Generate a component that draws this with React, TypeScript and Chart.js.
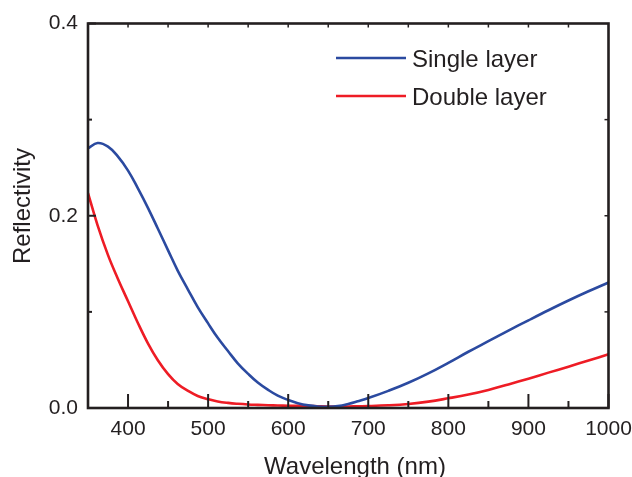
import React, { useEffect, useRef } from 'react';
import { Chart, registerables } from 'chart.js';

Chart.register(...registerables);

const wavelengths = [350, 362, 375, 387, 400, 412, 425, 437, 450, 462, 475, 487, 500, 512, 525, 537, 550, 562, 575, 587, 600, 612, 625, 637, 650, 662, 675, 687, 700, 725, 750, 775, 800, 825, 850, 875, 900, 925, 950, 975, 1000];
const singleLayer = [0.270, 0.2757, 0.272, 0.262, 0.247, 0.229, 0.208, 0.187, 0.164, 0.143, 0.123, 0.105, 0.088, 0.073, 0.059, 0.0465, 0.0355, 0.0265, 0.0188, 0.0128, 0.0083, 0.005, 0.0027, 0.0016, 0.0013, 0.002, 0.0042, 0.007, 0.0103, 0.0178, 0.0262, 0.036, 0.047, 0.0585, 0.0695, 0.0805, 0.0912, 0.1017, 0.1118, 0.1214, 0.1306];
const doubleLayer = [0.2236, 0.190, 0.159, 0.135, 0.111, 0.089, 0.067, 0.050, 0.0352, 0.025, 0.0178, 0.0125, 0.0092, 0.0068, 0.0053, 0.0044, 0.0037, 0.0033, 0.0029, 0.0026, 0.0024, 0.0022, 0.002, 0.0018, 0.0016, 0.0016, 0.0016, 0.0018, 0.002, 0.0028, 0.0042, 0.0066, 0.0101, 0.014, 0.0188, 0.0245, 0.0305, 0.0368, 0.043, 0.0494, 0.0559];
const seriesLabels = ['Single layer', 'Double layer'];
const seriesColors = ['#2b4aa0', '#ee1c25'];

const xTickLabels = [400, 500, 600, 700, 800, 900, 1000];
const xMinorTicks = [450, 550, 650, 750, 850, 950];
const xTopTicks = [400, 450, 500, 550, 600, 650, 700, 750, 800, 850, 900, 950];
const yTickLabels = [0.0, 0.2, 0.4];
const yMinorTicks = [0.1, 0.3];
const yRightTicks = [0.1, 0.2, 0.3];

const xTitle = 'Wavelength (nm)';
const yTitle = 'Reflectivity';

const FONT = '"Liberation Sans", Arial, Helvetica, sans-serif';
const INK = '#231f20';

const framePlugin = {
  id: 'frame',
  afterDatasetsDraw(chart: any) {
    const ctx = chart.ctx;
    const { left, right, top, bottom } = chart.chartArea;
    const xs = chart.scales.x;
    const ys = chart.scales.y;
    ctx.save();
    ctx.strokeStyle = INK;
    ctx.lineCap = 'butt';
    ctx.lineWidth = 2;
    const vTick = (x: number, y0: number, len: number) => {
      ctx.beginPath();
      ctx.moveTo(x, y0);
      ctx.lineTo(x, y0 + len);
      ctx.stroke();
    };
    const hTick = (y: number, x0: number, len: number) => {
      ctx.beginPath();
      ctx.moveTo(x0, y);
      ctx.lineTo(x0 + len, y);
      ctx.stroke();
    };
    xTickLabels.forEach((v) => vTick(xs.getPixelForValue(v), bottom, -14));
    xMinorTicks.forEach((v) => vTick(xs.getPixelForValue(v), bottom, -7));
    ctx.lineWidth = 1.5;
    xTopTicks.forEach((v) => vTick(xs.getPixelForValue(v), top, 4));
    ctx.lineWidth = 2;
    yTickLabels.forEach((v) => hTick(ys.getPixelForValue(v), left, 8));
    yMinorTicks.forEach((v) => hTick(ys.getPixelForValue(v), left, 4));
    ctx.lineWidth = 1.5;
    yRightTicks.forEach((v) => hTick(ys.getPixelForValue(v), right, -4));
    ctx.lineWidth = 2.6;
    ctx.strokeRect(left, top, right - left, bottom - top);

    ctx.fillStyle = INK;
    ctx.font = `24px ${FONT}`;
    ctx.textAlign = 'center';
    ctx.textBaseline = 'alphabetic';
    ctx.fillText(xTitle, 355, 474);
    ctx.save();
    ctx.translate(30, 206);
    ctx.rotate(-Math.PI / 2);
    ctx.fillText(yTitle, 0, 0);
    ctx.restore();

    const ds = chart.data.datasets;
    const rows = [58, 96];
    ds.forEach((d: any, i: number) => {
      const y = rows[i];
      ctx.strokeStyle = d.borderColor;
      ctx.lineWidth = 2.6;
      ctx.beginPath();
      ctx.moveTo(336, y);
      ctx.lineTo(406, y);
      ctx.stroke();
      ctx.fillStyle = INK;
      ctx.textAlign = 'left';
      ctx.textBaseline = 'alphabetic';
      ctx.font = `24px ${FONT}`;
      ctx.fillText(d.label, 412, y + 8.7);
    });
    ctx.restore();
  },
};

export default function App() {
  const ref = useRef<HTMLCanvasElement | null>(null);
  useEffect(() => {
    document.body.style.margin = '0';
    const canvas = ref.current;
    if (!canvas) return;
    const chart = new Chart(canvas, {
      type: 'line',
      data: {
        datasets: [singleLayer, doubleLayer].map((vals, i) => ({
          label: seriesLabels[i],
          data: wavelengths.map((w, j) => ({ x: w, y: vals[j] })),
          borderColor: seriesColors[i],
          backgroundColor: seriesColors[i],
          borderWidth: 2.6,
          pointRadius: 0,
          fill: false,
          tension: 0.4,
        })),
      },
      options: {
        animation: false,
        responsive: false,
        devicePixelRatio: 1,
        layout: { padding: { left: 0, right: 23.5, top: 23.5, bottom: 0 } },
        plugins: {
          legend: { display: false },
          tooltip: { enabled: false },
        },
        scales: {
          x: {
            type: 'linear',
            min: 350,
            max: 1000,
            afterBuildTicks: (scale: any) => {
              scale.ticks = xTickLabels.map((v) => ({ value: v }));
            },
            afterFit: (scale: any) => {
              scale.height = 69;
              scale.paddingLeft = 0;
              scale.paddingRight = 0;
            },
            grid: { display: false, drawTicks: false },
            border: { display: false },
            ticks: {
              padding: 9,
              color: INK,
              font: { family: FONT, size: 21 },
              maxRotation: 0,
              autoSkip: false,
              callback: (v: any) => String(v),
            },
          },
          y: {
            type: 'linear',
            min: 0,
            max: 0.4,
            afterBuildTicks: (scale: any) => {
              scale.ticks = yTickLabels.map((v) => ({ value: v }));
            },
            afterFit: (scale: any) => {
              scale.width = 88;
              scale.paddingTop = 0;
              scale.paddingBottom = 0;
            },
            grid: { display: false, drawTicks: false },
            border: { display: false },
            ticks: {
              padding: 10,
              color: INK,
              font: { family: FONT, size: 21 },
              callback: (v: any) => Number(v).toFixed(1),
            },
          },
        },
      },
      plugins: [framePlugin],
    });
    return () => chart.destroy();
  }, []);
  return (
    <div style={{ width: 632, height: 477, background: '#fff' }}>
      <canvas ref={ref} width={632} height={477} style={{ display: 'block' }} />
    </div>
  );
}
